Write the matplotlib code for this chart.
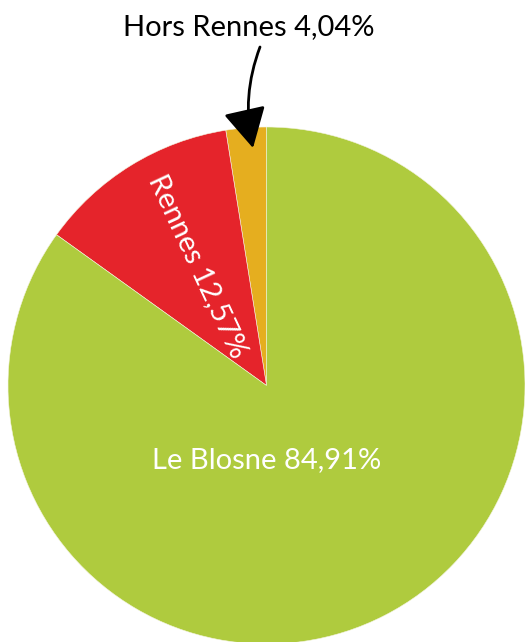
import matplotlib.pyplot as plt

# parts (as drawn) and their printed labels
names = ["Hors Rennes", "Rennes", "Le Blosne"]
shares = [2.52, 12.57, 84.91]
labels = ["Hors Rennes 4,04%", "Rennes 12,57%", "Le Blosne 84,91%"]
colors = ["#E5AE1F", "#E5242B", "#AFCB3E"]

W, H = 525, 642
fig = plt.figure(figsize=(W / 100, H / 100), dpi=100)
ax = fig.add_axes([0, 0, 1, 1])

cx, cy, r = 266.5, H - 385.5, 258.5
ax.pie(shares, colors=colors, startangle=90, counterclock=True,
       center=(cx, cy), radius=r, frame=True,
       wedgeprops=dict(edgecolor="#f4f4e0", linewidth=0.4))
ax.set_xlim(0, W)
ax.set_ylim(0, H)
ax.set_aspect("equal")
ax.axis("off")

font = ["Lato", "DejaVu Sans"]
fs = 21

ax.text(cx, H - 460, labels[2], color="white", fontsize=fs, family=font,
        ha="center", va="center")
ax.text(198, H - 266, labels[1], color="white", fontsize=fs, family=font,
        ha="center", va="center", rotation=-65, rotation_mode="anchor")

ax.text(249, H - 27, labels[0], fontsize=fs, family=font,
        color="black", ha="center", va="center")
ax.annotate("", xy=(253, H - 148), xytext=(260, H - 47),
            arrowprops=dict(arrowstyle="-|>,head_length=1.3,head_width=0.7",
                            color="black", lw=2, mutation_scale=19,
                            connectionstyle="arc3,rad=0.15",
                            shrinkA=0, shrinkB=0))

fig.savefig("out.png", dpi=100)
